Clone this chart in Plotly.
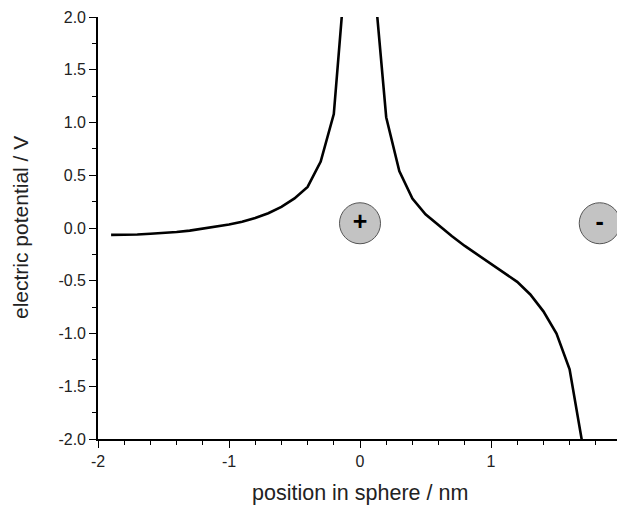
import plotly.graph_objects as go

# Left branch (x < 0) of the potential curve
x_left = [-1.9, -1.8, -1.7, -1.6, -1.5, -1.4, -1.3, -1.2, -1.1, -1.0, -0.9, -0.8,
          -0.7, -0.6, -0.5, -0.4, -0.3, -0.2, -0.1]
v_left = [-0.065, -0.065, -0.062, -0.055, -0.048, -0.038, -0.025, -0.008, 0.012, 0.033,
          0.06, 0.095, 0.14, 0.2, 0.28, 0.39, 0.63, 1.08, 2.6]

# Right branch (x > 0)
x_right = [0.1, 0.2, 0.3, 0.4, 0.5, 0.6, 0.7, 0.8, 0.9, 1.0, 1.1, 1.2, 1.3, 1.4,
           1.5, 1.6, 1.7]
v_right = [2.45, 1.05, 0.54, 0.28, 0.13, 0.025, -0.075, -0.17, -0.255, -0.335, -0.42,
           -0.51, -0.63, -0.79, -1.0, -1.34, -2.06]

# Charges
charge_x = [0.0, 1.83]
charge_y = [0.045, 0.045]
charge_labels = ["<b>+</b>", "<b>-</b>"]

x_ticks = [-2, -1, 0, 1, 2]
y_ticks = [-2.0, -1.5, -1.0, -0.5, 0.0, 0.5, 1.0, 1.5, 2.0]

x_title = "position in sphere / nm"
y_title = "electric potential / V"

FONT = "Arial, Liberation Sans, sans-serif"

fig = go.Figure()
for xs, vs in ((x_left, v_left), (x_right, v_right)):
    fig.add_trace(go.Scatter(x=xs, y=vs, mode="lines",
                             line=dict(color="black", width=2.6),
                             showlegend=False, hoverinfo="skip"))

fig.add_trace(go.Scatter(
    x=charge_x, y=charge_y, mode="markers+text",
    marker=dict(size=41, color="#c3c3c3", line=dict(color="#555555", width=1)),
    text=charge_labels, textposition="middle center",
    textfont=dict(family=FONT, size=25, color="black"),
    showlegend=False, hoverinfo="skip", cliponaxis=False))

axis_common = dict(
    showline=True, linecolor="black", linewidth=1.6,
    ticks="outside", tickcolor="black", tickwidth=1.4, ticklen=7,
    showgrid=False, zeroline=False, mirror=False, automargin=False,
    ticklabeloverflow="allow",
    tickfont=dict(family=FONT, size=16, color="#222222"),
)

fig.update_xaxes(range=[-2, 2], tickvals=x_ticks, ticktext=[str(t) for t in x_ticks],
                 minor=dict(dtick=0.2, tick0=0, ticks="outside", ticklen=4,
                            tickcolor="black", tickwidth=1.2, showgrid=False),
                 **axis_common)
fig.update_yaxes(range=[-2, 2], tickvals=y_ticks, ticktext=[f"{t:.1f}" for t in y_ticks],
                 minor=dict(dtick=0.25, tick0=0, ticks="outside", ticklen=4,
                            tickcolor="black", tickwidth=1.2, showgrid=False),
                 **axis_common)

# The page body has an 8px margin, so the figure is drawn 8px in from the corner.
fig.update_layout(
    width=617, height=498,
    margin=dict(l=90, r=3, t=9, b=67, autoexpand=False),
    paper_bgcolor="white", plot_bgcolor="white",
    annotations=[
        dict(text=x_title, xref="paper", yref="paper", x=0.5, y=(431 - 485) / 422,
             xanchor="center", yanchor="middle", showarrow=False,
             font=dict(family=FONT, size=21.5, color="#222222")),
        dict(text=y_title, xref="paper", yref="paper", x=(12 - 90) / 524, y=0.5,
             xanchor="center", yanchor="middle", showarrow=False, textangle=-90,
             font=dict(family=FONT, size=21, color="#222222")),
    ],
)

fig.write_html("out.html")
